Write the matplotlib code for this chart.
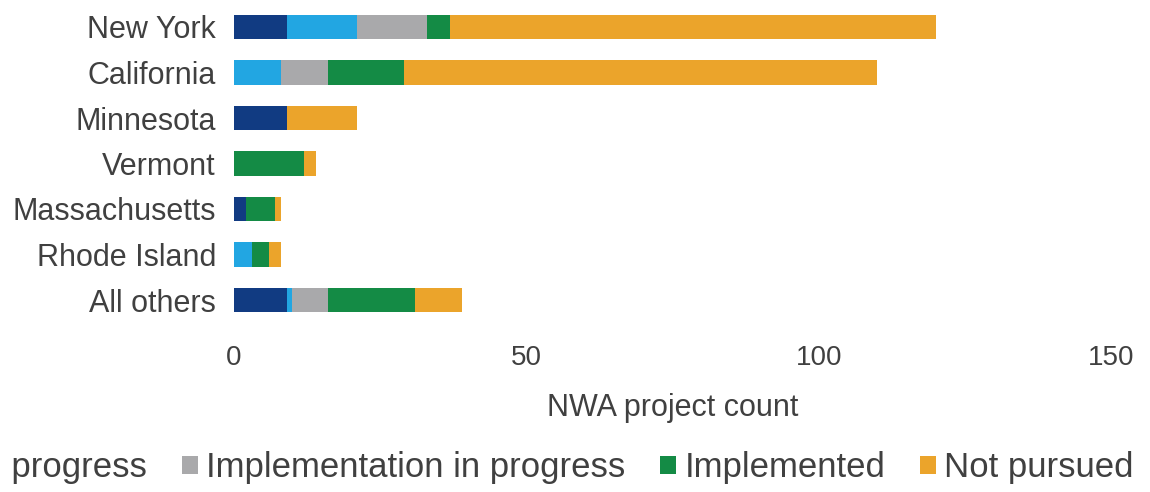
import matplotlib
matplotlib.use("Agg")
import matplotlib.pyplot as plt
import numpy as np

plt.rcParams['font.family'] = ['Liberation Sans', 'DejaVu Sans']

states = ["New York", "California", "Minnesota", "Vermont",
          "Massachusetts", "Rhode Island", "All others"]
statuses = ["Under evaluation", "Planning in progress",
            "Implementation in progress", "Implemented", "Not pursued"]
under_evaluation = [9, 0, 9, 0, 2, 0, 9]
planning = [12, 8, 0, 0, 0, 3, 1]
implementation = [12, 8, 0, 0, 0, 0, 6]
implemented = [4, 13, 0, 12, 5, 3, 15]
not_pursued = [83, 81, 12, 2, 1, 2, 8]
xticks = [0, 50, 100, 150]

colors = ["#113b82", "#22a6e2", "#a9a9ab", "#148b45", "#eba42b"]
series = [under_evaluation, planning, implementation, implemented, not_pursued]

fig = plt.figure(figsize=(11.5, 4.92), dpi=100)
ax = fig.add_axes([234 / 1150, 1 - 322.75 / 492, 877 / 1150, (322.75 - 4.25) / 492])

y = np.arange(len(states))[::-1]
left = np.zeros(len(states))
for vals, col, lab in zip(series, colors, statuses):
    vals = np.array(vals, dtype=float)
    ax.barh(y, vals, left=left, height=0.53, color=col, label=lab, linewidth=0)
    left += vals

ax.set_xlim(0, 150)
ax.set_ylim(-0.5, len(states) - 0.5)
ax.set_xticks(xticks)
ax.set_xticklabels([str(t) for t in xticks])
ax.set_yticks(y)
ax.set_yticklabels(states)
for s in ax.spines.values():
    s.set_visible(False)
ax.tick_params(axis="x", length=0, pad=16, labelsize=20, labelcolor="#404040")
ax.tick_params(axis="y", length=0, pad=13, labelsize=22, labelcolor="#404040")
ax.set_xlabel("NWA project count", fontsize=22, color="#404040", labelpad=16)

handles, labels = ax.get_legend_handles_labels()
fig.legend(handles, labels, loc="center right",
           bbox_to_anchor=(1134 / 1150, 1 - 468 / 492), ncol=5, frameon=False,
           fontsize=25, handlelength=0.45, handleheight=0.45, handletextpad=0.25,
           columnspacing=1.0, borderpad=0, borderaxespad=0, labelcolor="#404040")

fig.savefig("out.png", dpi=100)
